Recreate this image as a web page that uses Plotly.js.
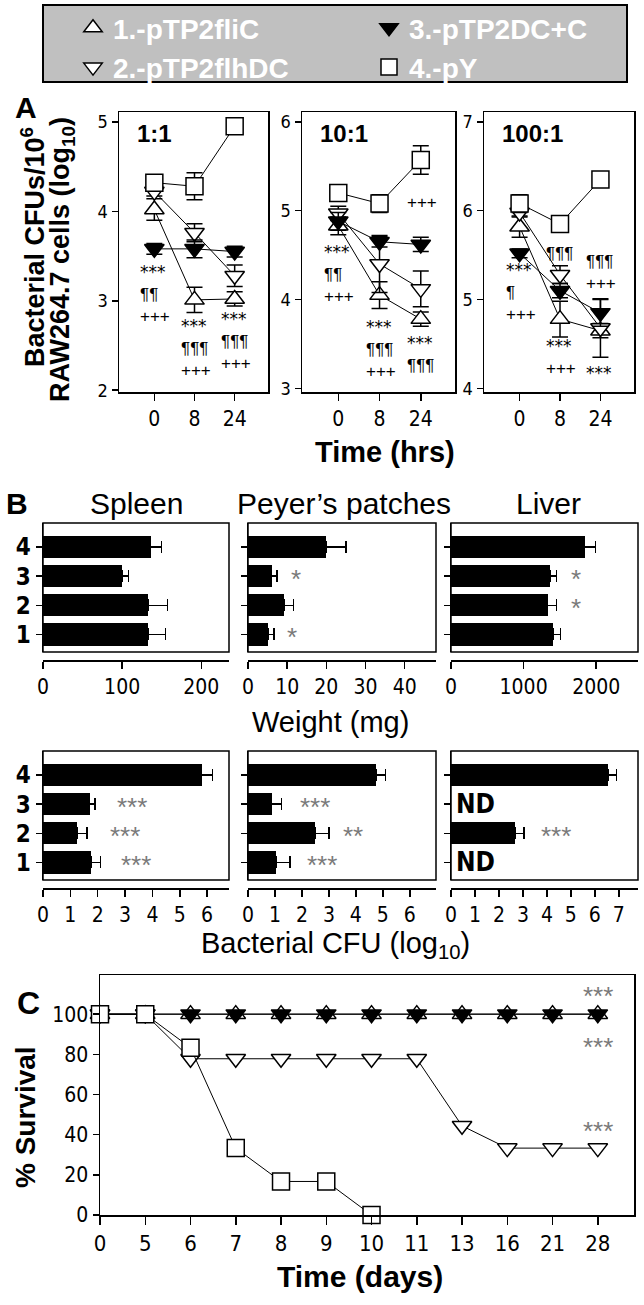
<!DOCTYPE html>
<html><head><meta charset="utf-8">
<script src="https://cdn.plot.ly/plotly-3.0.1.min.js"></script>
<style>html,body{margin:0;padding:0;background:#fff}#chart{width:644px;height:1305px}</style>
</head><body><div id="chart"></div>
<script>
// ---------------- DATA ----------------
const seriesNames = ['1.-pTP2fliC', '2.-pTP2flhDC', '3.-pTP2DC+C', '4.-pY'];
const timeLabels = ['0', '8', '24'];

// Panel A, MOI 1:1 (log10 CFU)
const r1_fliC = [4.02, 3.01, 3.02];   const r1_fliC_se = [0.12, 0.14, 0.08];
const r1_flhDC = [4.22, 3.76, 3.28];  const r1_flhDC_se = [0.05, 0.10, 0.12];
const r1_dcc = [3.58, 3.58, 3.55];    const r1_dcc_se = [0.06, 0.10, 0.06];
const r1_pY = [4.32, 4.28, 4.95];     const r1_pY_se = [0.08, 0.15, 0.05];
// Panel A, MOI 10:1
const r10_fliC = [4.83, 4.05, 3.78];  const r10_fliC_se = [0.10, 0.15, 0.08];
const r10_flhDC = [4.97, 4.40, 4.12]; const r10_flhDC_se = [0.08, 0.32, 0.20];
const r10_dcc = [4.88, 4.65, 4.62];   const r10_dcc_se = [0.10, 0.06, 0.08];
const r10_pY = [5.20, 5.08, 5.57];    const r10_pY_se = [0.08, 0.10, 0.16];
// Panel A, MOI 100:1
const r100_fliC = [5.82, 4.78, 4.65]; const r100_fliC_se = [0.12, 0.20, 0.08];
const r100_flhDC = [5.98, 5.28, 4.68];const r100_flhDC_se = [0.05, 0.10, 0.33];
const r100_dcc = [5.52, 5.10, 4.85];  const r100_dcc_se = [0.05, 0.08, 0.15];
const r100_pY = [6.08, 5.85, 6.35];   const r100_pY_se = [0.10, 0.06, 0.05];

// Panel B (groups 1..4)
const groups = [1, 2, 3, 4];
const spleenWt = [133, 133, 100, 136];     const spleenWt_se = [22, 24, 8, 14];
const ppWt = [5.2, 9.2, 6.0, 20];          const ppWt_se = [1.4, 2.4, 1.4, 5];
const liverWt = [1410, 1330, 1360, 1840];  const liverWt_se = [100, 120, 90, 150];
const spleenCFU = [1.76, 1.25, 1.70, 5.80];const spleenCFU_se = [0.34, 0.35, 0.20, 0.40];
const ppCFU = [1.03, 2.50, 0.88, 4.75];    const ppCFU_se = [0.52, 0.50, 0.36, 0.35];
const liverCFU = [null, 2.67, null, 6.55]; const liverCFU_se = [0, 0.38, 0, 0.35];

// Panel C survival (%)
const dayLabels = ['0', '5', '6', '7', '8', '9', '10', '11', '13', '16', '21', '28'];
const surv_fliC = [100, 100, 100, 100, 100, 100, 100, 100, 100, 100, 100, 100];
const surv_flhDC = [100, 100, 77.8, 77.8, 77.8, 77.8, 77.8, 77.8, 44.4, 33.3, 33.3, 33.3];
const surv_dcc = [100, 100, 100, 100, 100, 100, 100, 100, 100, 100, 100, 100];
const surv_pY = [100, 100, 83.3, 33.3, 16.7, 16.7, 0, null, null, null, null, null];

// ---------------- LAYOUT HELPERS ----------------
const W = 644, H = 1305;
const X = px => px / W;
const Y = py => 1 - py / H;
const SANS = "'Liberation Sans', Arial, sans-serif";
const NARROW = "'Liberation Sans Narrow', 'DejaVu Sans Condensed', 'Arial Narrow', sans-serif";

const sym = [
  {symbol: 'triangle-up', color: 'white'},
  {symbol: 'triangle-down', color: 'white'},
  {symbol: 'triangle-down', color: 'black'},
  {symbol: 'square', color: 'white'}
];

const traces = [];
function lineTrace(xs, ys, se, k, xa, ya, size) {
  const t = {
    type: 'scatter', mode: 'lines+markers', x: xs, y: ys,
    xaxis: xa, yaxis: ya, showlegend: false, cliponaxis: false,
    line: {color: 'black', width: 1},
    marker: {symbol: sym[k].symbol, color: sym[k].color, size: size, line: {color: 'black', width: 1.5}}
  };
  if (se) t.error_y = {type: 'data', array: se, visible: true, color: 'black', thickness: 1.5, width: 8};
  traces.push(t);
}
// Panel A
const A = [
  [[r1_fliC, r1_fliC_se], [r1_flhDC, r1_flhDC_se], [r1_dcc, r1_dcc_se], [r1_pY, r1_pY_se]],
  [[r10_fliC, r10_fliC_se], [r10_flhDC, r10_flhDC_se], [r10_dcc, r10_dcc_se], [r10_pY, r10_pY_se]],
  [[r100_fliC, r100_fliC_se], [r100_flhDC, r100_flhDC_se], [r100_dcc, r100_dcc_se], [r100_pY, r100_pY_se]]
];
A.forEach((plot, i) => {
  const xa = i === 0 ? 'x' : 'x' + (i + 1), ya = i === 0 ? 'y' : 'y' + (i + 1);
  plot.forEach((s, k) => lineTrace(timeLabels, s[0], s[1], k, xa, ya, 17));
});

// Panel B bars
function barTrace(vals, se, xa, ya) {
  traces.push({
    type: 'bar', orientation: 'h', x: vals, y: groups, xaxis: xa, yaxis: ya,
    width: 0.76, marker: {color: 'black', line: {width: 0}}, showlegend: false,
    error_x: {type: 'data', symmetric: false, array: se, arrayminus: se.map(() => 0),
              visible: true, color: 'black', thickness: 1.5, width: 6}
  });
}
barTrace(spleenWt, spleenWt_se, 'x4', 'y4');
barTrace(ppWt, ppWt_se, 'x5', 'y5');
barTrace(liverWt, liverWt_se, 'x6', 'y6');
barTrace(spleenCFU, spleenCFU_se, 'x7', 'y7');
barTrace(ppCFU, ppCFU_se, 'x8', 'y8');
barTrace(liverCFU, liverCFU_se, 'x9', 'y9');

// Panel C
[surv_fliC, surv_flhDC, surv_dcc, surv_pY].forEach((s, k) => lineTrace(dayLabels, s, null, k, 'x10', 'y10', 17));

// Legend-only traces
seriesNames.forEach((n, k) => {
  traces.push({
    type: 'scatter', mode: 'markers', x: [null], y: [null], xaxis: 'x10', yaxis: 'y10',
    name: n, showlegend: true, legend: (k === 0 || k === 1) ? 'legend' : 'legend2',
    marker: {symbol: sym[k].symbol, color: sym[k].color, size: 16, line: {color: 'black', width: 1.5}}
  });
});

// ---------------- AXES ----------------
const legFont = {family: SANS, size: 28, color: 'white', weight: 'bold'};
const layout = {
  width: W, height: H, margin: {l: 0, r: 0, t: 0, b: 0},
  paper_bgcolor: 'white', plot_bgcolor: 'white',
  font: {family: SANS, color: 'black'},
  showlegend: true,
  bargap: 0,
  legend: {x: X(73), y: Y(3), xanchor: 'left', yanchor: 'top', orientation: 'v', bgcolor: 'rgba(0,0,0,0)',
           font: legFont, tracegroupgap: 0, itemclick: false},
  legend2: {x: X(369), y: Y(3), xanchor: 'left', yanchor: 'top', orientation: 'v', bgcolor: 'rgba(0,0,0,0)',
           font: legFont, tracegroupgap: 0, itemclick: false},
  shapes: [], annotations: []
};

const aX = [[119, 268], [302, 455], [484, 634]];
const aRange = [[1.98, 5.11], [2.96, 6.11], [3.96, 7.11]];
aX.forEach((d, i) => {
  const xn = i === 0 ? 'xaxis' : 'xaxis' + (i + 1), yn = i === 0 ? 'yaxis' : 'yaxis' + (i + 1);
  const xa = i === 0 ? 'x' : 'x' + (i + 1), ya = i === 0 ? 'y' : 'y' + (i + 1);
  layout[xn] = {domain: [X(d[0]), X(d[1])], anchor: ya, type: 'category', range: [-0.88, 2.83],
    showline: true, mirror: true, linecolor: 'black', linewidth: 1.5, ticks: 'outside', ticklen: 7, tickwidth: 1.5,
    tickcolor: 'black', showgrid: false, zeroline: false, tickfont: {family: NARROW, size: 21}};
  layout[yn] = {domain: [Y(392), Y(112)], anchor: xa, range: aRange[i], dtick: 1,
    showline: true, mirror: true, linecolor: 'black', linewidth: 1.5, ticks: 'outside', ticklen: 6, tickwidth: 1.5,
    tickcolor: 'black', showgrid: false, zeroline: false, tickfont: {family: NARROW, size: 18}};
});

// Panel B axes
const bX = [[43, 229], [248, 436], [451, 638]];
const bRows = [{top: 523, bot: 652, axis: 660}, {top: 751, bot: 880, axis: 888}];
const bRanges = [[[0, 235], [0, 48], [0, 2575]], [[0, 6.8], [0, 6.97], [0, 7.8]]];
const bTicks = [[[0, 100, 200], [0, 10, 20, 30, 40], [0, 1000, 2000]],
                [[0, 1, 2, 3, 4, 5, 6], [0, 1, 2, 3, 4, 5, 6], [0, 1, 2, 3, 4, 5, 6, 7]]];
bRows.forEach((row, r) => {
  bX.forEach((d, c) => {
    const n = 4 + r * 3 + c;
    layout['xaxis' + n] = {domain: [X(d[0]), X(d[1])], anchor: 'free', position: Y(row.axis),
      range: bRanges[r][c], tickvals: bTicks[r][c], showline: true, linecolor: 'black', linewidth: 1.5,
      ticks: 'outside', ticklen: 7, tickwidth: 1.5, tickcolor: 'black', showgrid: false, zeroline: false,
      tickfont: {family: NARROW, size: 21}};
    layout['yaxis' + n] = {domain: [Y(row.bot), Y(row.top)], anchor: 'x' + n, range: [0.4, 4.82],
      tickvals: groups, showticklabels: c === 0, showline: true, linecolor: 'black', linewidth: 1.5,
      ticks: 'outside', ticklen: 6, tickwidth: 1.5, tickcolor: 'black', showgrid: false, zeroline: false,
      tickfont: {family: NARROW, size: 24, weight: 'bold'}};
    layout.shapes.push({type: 'rect', xref: 'x' + n + ' domain', yref: 'y' + n + ' domain',
      x0: 0, x1: 1, y0: 0, y1: 1, line: {color: 'black', width: 1.5}, layer: 'above'});
  });
});

// Panel C axes
layout.xaxis10 = {domain: [X(100), X(634)], anchor: 'y10', type: 'category', range: [0, 11.8],
  showline: true, mirror: true, linecolor: 'black', linewidth: 1.5, ticks: 'outside', ticklen: 8, tickwidth: 1.5,
  tickcolor: 'black', showgrid: false, zeroline: false, tickfont: {family: NARROW, size: 22}};
layout.yaxis10 = {domain: [Y(1215), Y(975)], anchor: 'x10', range: [0, 119.5], tickvals: [0, 20, 40, 60, 80, 100],
  showline: true, mirror: true, linecolor: 'black', linewidth: 1.5, ticks: 'outside', ticklen: 6, tickwidth: 1.5,
  tickcolor: 'black', showgrid: false, zeroline: false, tickfont: {family: NARROW, size: 21}};

// Legend box
layout.shapes.push({type: 'rect', xref: 'paper', yref: 'paper', x0: X(43), x1: X(627), y0: Y(82), y1: Y(5),
  fillcolor: '#c0c0c0', line: {color: 'black', width: 2}, layer: 'below'});

// ---------------- TEXT ----------------
function pAnn(text, px, py, o) {
  o = o || {};
  layout.annotations.push(Object.assign({text: text, x: X(px), y: Y(py), xref: 'paper', yref: 'paper',
    showarrow: false, xanchor: 'center', yanchor: 'middle',
    font: {family: SANS, size: o.size || 28, color: o.color || 'black', weight: o.bold ? 'bold' : 'normal'}},
    o.extra || {}));
}
function dAnn(text, xa, ya, x, y, o) {
  o = o || {};
  layout.annotations.push({text: text, x: x, y: y, xref: xa, yref: ya, showarrow: false, align: 'left',
    xanchor: o.xanchor || 'left', yanchor: 'middle', xshift: o.xshift === undefined ? -16 : o.xshift,
    font: {family: o.family || SANS, size: o.size || 17, color: o.color || 'black', weight: o.bold ? 'bold' : 'normal'}});
}

pAnn('A', 26, 108, {bold: true, size: 30});
pAnn('Bacterial CFUs/10<sup>6</sup>', 33, 247, {bold: true, size: 27, extra: {textangle: -90}});
pAnn('RAW264.7 cells (log<sub>10</sub>)', 62, 260, {bold: true, size: 27, extra: {textangle: -90}});
pAnn('Time (hrs)', 385, 452, {bold: true, size: 29});

// inner MOI labels
['1:1', '10:1', '100:1'].forEach((t, i) => {
  const xa = i === 0 ? 'x' : 'x' + (i + 1), ya = i === 0 ? 'y' : 'y' + (i + 1);
  layout.annotations.push({text: t, xref: xa + ' domain', yref: ya + ' domain', x: 0, y: 1, xanchor: 'left', yanchor: 'top',
    xshift: 16, yshift: -6, showarrow: false, font: {family: SANS, size: 24, weight: 'bold', color: 'black'}});
});

// significance marks, panel A (stacks: time, centre value, lines)
const aStacks = [
  [['0', 3.07, ['***', '¶¶', '+++']], ['8', 2.47, ['***', '¶¶¶', '+++']], ['24', 2.55, ['***', '¶¶¶', '+++']]],
  [['0', 4.29, ['***', '¶¶', '+++']], ['8', 3.44, ['***', '¶¶¶', '+++']], ['24', 5.09, ['+++']], ['24', 3.385, ['***', '¶¶¶']]],
  [['0', 5.08, ['***', '¶', '+++']], ['8', 5.52, ['¶¶¶']], ['8', 4.35, ['***', '+++']],
   ['24', 5.305, ['¶¶¶', '+++']], ['24', 4.17, ['***']]]
];
aStacks.forEach((list, i) => {
  const xa = i === 0 ? 'x' : 'x' + (i + 1), ya = i === 0 ? 'y' : 'y' + (i + 1);
  list.forEach(n => {
    const txt = n[2].map(l => l.charAt(0) === '*' ? '<span style="font-family:\'DejaVu Sans\'">' + l + '</span>' : l).join('<br>');
    dAnn(txt, xa, ya, timeLabels.indexOf(n[0]), n[1], {size: 17});
  });
});

// Panel B text
pAnn('B', 17, 503, {bold: true, size: 30});
pAnn('Spleen', 136, 503, {size: 30});
pAnn('Peyer’s patches', 344, 503, {size: 30});
pAnn('Liver', 548, 503, {size: 30});
pAnn('Weight (mg)', 330, 722, {size: 29});
pAnn('Bacterial CFU (log<sub>10</sub>)', 335, 945, {size: 29});
const gray = '#7a7a7a';
const gs = {xanchor: 'center', xshift: 0, size: 26, color: gray};
dAnn('*', 'x5', 'y5', 12.2, 2.9, gs);
dAnn('*', 'x5', 'y5', 11.2, 0.9, gs);
dAnn('*', 'x6', 'y6', 1725, 2.9, gs);
dAnn('*', 'x6', 'y6', 1725, 1.9, gs);
dAnn('***', 'x7', 'y7', 3.27, 2.9, gs);
dAnn('***', 'x7', 'y7', 2.98, 1.9, gs);
dAnn('***', 'x7', 'y7', 3.40, 0.9, gs);
dAnn('***', 'x8', 'y8', 2.50, 2.9, gs);
dAnn('**', 'x8', 'y8', 3.90, 1.9, gs);
dAnn('***', 'x8', 'y8', 2.73, 0.9, gs);
dAnn('***', 'x9', 'y9', 4.40, 1.9, gs);
dAnn('ND', 'x9', 'y9', 0.12, 3, {xanchor: 'left', xshift: 0, size: 26, bold: true, family: NARROW});
dAnn('ND', 'x9', 'y9', 0.12, 1, {xanchor: 'left', xshift: 0, size: 26, bold: true, family: NARROW});

// Panel C text
pAnn('C', 28, 1003, {bold: true, size: 32});
pAnn('% Survival', 25, 1117, {bold: true, size: 28, extra: {textangle: -90}});
pAnn('Time (days)', 360, 1276, {bold: true, size: 30});
const dLast = dayLabels.indexOf('28');
dAnn('***', 'x10', 'y10', dLast, 109, {xanchor: 'center', xshift: 0, size: 26, color: gray});
dAnn('***', 'x10', 'y10', dLast, 83.5, {xanchor: 'center', xshift: 0, size: 26, color: gray});
dAnn('***', 'x10', 'y10', dLast, 42, {xanchor: 'center', xshift: 0, size: 26, color: gray});

Plotly.newPlot('chart', traces, layout, {displayModeBar: false, staticPlot: true});
</script></body></html>
